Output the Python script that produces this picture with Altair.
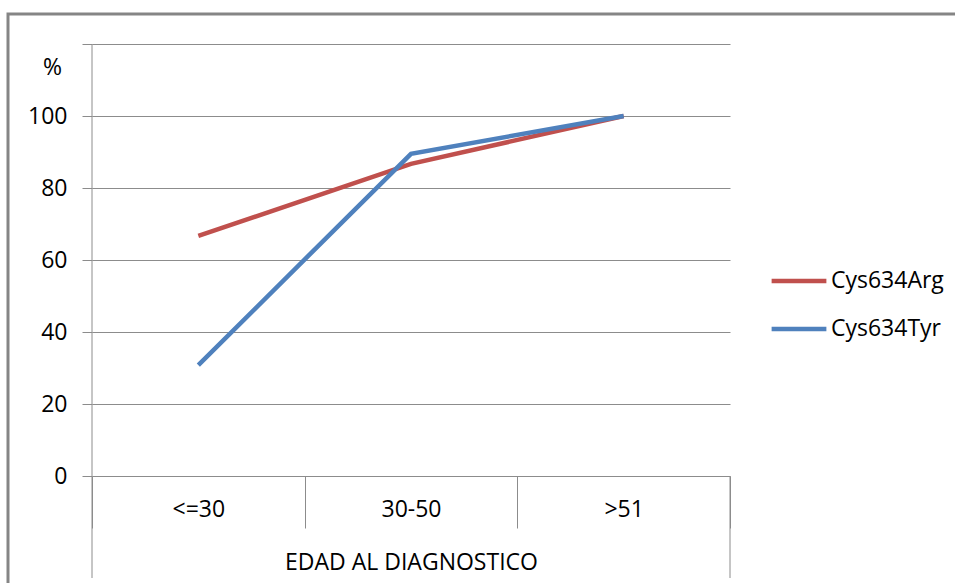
import altair as alt
import pandas as pd

categories = ["<=30", "30-50", ">51"]
arg_values = [66.7, 86.7, 100.0]
tyr_values = [30.8, 89.5, 100.0]
series_names = ["Cys634Arg", "Cys634Tyr"]
series_colors = ["#C0504D", "#4F81BD"]
y_ticks = [0, 20, 40, 60, 80, 100, 120]

rows = []
for name, vals in zip(series_names, [arg_values, tyr_values]):
    for c, v in zip(categories, vals):
        rows.append({"edad": c, "serie": name, "pct": v})
df = pd.DataFrame(rows)

W, H = 638, 432
FONT = "Open Sans"
FS = 23
GRID = "#8c8c8c"
BORDER = "#858585"

x_enc = alt.X(
    "edad:N", sort=categories,
    scale=alt.Scale(type="band", paddingInner=0, paddingOuter=0),
    bandPosition=0.5,
    axis=alt.Axis(
        title="EDAD AL DIAGNOSTICO", labelAngle=0, domain=False, grid=False,
        ticks=True, tickBand="extent", tickSize=52, tickColor=GRID, tickWidth=1,
        labelPadding=-19, labelBaseline="middle", labelFontSize=FS, labelFont=FONT,
        labelColor="#000000", titleFont=FONT, titleFontSize=FS, titleFontWeight="normal",
        titleColor="#000000", titleX=W / 2, titleY=86, titleBaseline="middle",
        titleAlign="center",
    ),
)

y_enc = alt.Y(
    "pct:Q",
    scale=alt.Scale(domain=[0, 120], nice=False, zero=True),
    axis=alt.Axis(
        values=y_ticks, labelExpr="datum.value == 120 ? '' : datum.label",
        title="%", titleAngle=0, titleX=-40, titleY=23, titleAlign="center",
        titleBaseline="middle", titleFont=FONT, titleFontSize=FS,
        titleFontWeight="normal", titleColor="#000000",
        grid=True, gridColor=GRID, gridWidth=1, tickSize=10, tickColor=GRID,
        domain=False, labelPadding=15, labelFontSize=FS, labelFont=FONT,
        labelColor="#000000",
    ),
)

color_enc = alt.Color(
    "serie:N",
    scale=alt.Scale(domain=series_names, range=series_colors),
    legend=alt.Legend(
        title=None, orient="none", legendX=677, legendY=207,
        symbolType="stroke", symbolSize=3000, symbolStrokeWidth=4.5,
        labelFont=FONT, labelFontSize=FS, labelColor="#000000",
        labelOffset=2, rowPadding=6,
    ),
)

lines = alt.Chart(df).mark_line(strokeWidth=4.5).encode(
    x=x_enc, y=y_enc, color=color_enc, order=alt.Order("serie:N")
)

one = alt.Data(values=[{"a": 1}])
left_rule = alt.Chart(one).mark_rule(color=GRID, strokeWidth=1).encode(
    x=alt.value(0), y=alt.value(0), y2=alt.value(534)
)
right_rule = alt.Chart(one).mark_rule(color=GRID, strokeWidth=1).encode(
    x=alt.value(W), y=alt.value(H), y2=alt.value(534)
)
border = alt.Chart(one).mark_rect(fill="transparent", stroke=BORDER, strokeWidth=3).encode(
    x=alt.value(-84), x2=alt.value(W + 260), y=alt.value(-30), y2=alt.value(H + 160)
)

chart = alt.layer(border, left_rule, right_rule, lines).properties(
    width=W, height=H,
    padding={"left": 92, "top": 44, "right": 225, "bottom": 107},
    autosize="none",
    background="white",
).configure_view(stroke=None)

chart.save("out.html", embed_options={"renderer": "svg", "actions": False})
